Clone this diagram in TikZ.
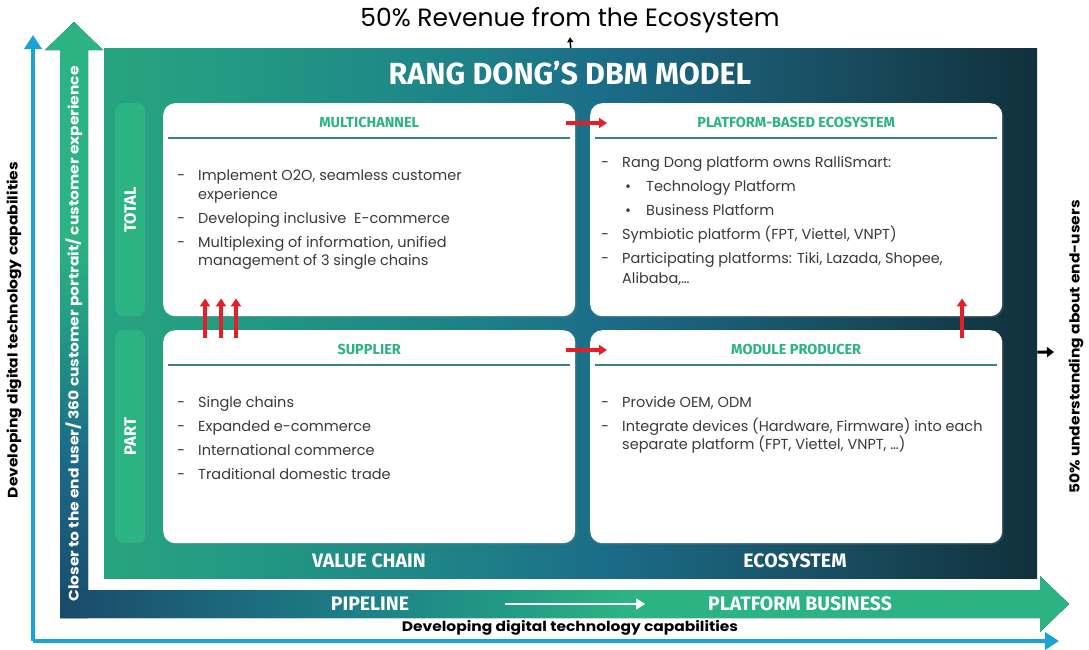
\documentclass[tikz,border=0pt]{standalone}
\usepackage{fontspec}
\setmainfont{Poppins}
\newfontfamily\headfont{Fira Sans}
\newfontfamily\widefont[FakeStretch=1.12]{Poppins}
\usetikzlibrary{arrows.meta,positioning,shadows}

\definecolor{dbmgreen}{HTML}{2BB383}
\definecolor{dbmleaf}{HTML}{27A47F}
\definecolor{dbmsea}{HTML}{229A84}
\definecolor{dbmturq}{HTML}{1D8088}
\definecolor{dbmteal}{HTML}{1B6C88}
\definecolor{dbmslate}{HTML}{184B5E}
\definecolor{dbmdark}{HTML}{10303B}
\definecolor{dbmnavy}{HTML}{1A4A6A}
\definecolor{dbmblue}{HTML}{1BA3D8}
\definecolor{dbmline}{HTML}{3D7F88}
\definecolor{dbmred}{HTML}{E3202A}
\definecolor{dbmtext}{HTML}{3A3A3A}

% colour runs of the model box and of the two bands
\pgfdeclarehorizontalshading{dbmbox}{100bp}{color(0bp)=(dbmleaf); color(25bp)=(dbmleaf);
  color(32bp)=(dbmsea); color(45bp)=(dbmturq); color(52bp)=(dbmteal);
  color(65bp)=(dbmslate); color(75bp)=(dbmdark); color(100bp)=(dbmdark)}
\pgfdeclarehorizontalshading{dbmband}{100bp}{color(0bp)=(dbmnavy); color(25bp)=(dbmnavy);
  color(40bp)=(dbmturq); color(47bp)=(dbmsea); color(53bp)=(dbmgreen); color(100bp)=(dbmgreen)}
\pgfdeclareverticalshading{dbmrise}{100bp}{color(0bp)=(dbmnavy); color(25bp)=(dbmnavy);
  color(39bp)=(dbmteal); color(49bp)=(dbmsea); color(57bp)=(dbmgreen); color(100bp)=(dbmgreen)}

\newcommand{\dashitem}{\makebox[21pt][l]{-}}
\newcommand{\contline}{\hspace*{21pt}}
\newcommand{\dotitem}{\hspace*{24pt}\makebox[21pt][l]{\textbullet}}

\begin{document}
\begin{tikzpicture}[x=1pt, y=-1pt,
    % boxes of the model
    panel/.style={fill=white, rounded corners=12pt, minimum width=412pt,
      minimum height=213pt, anchor=north west, inner sep=0pt,
      drop shadow={opacity=0.25, shadow xshift=1.5pt, shadow yshift=-1.5pt}},
    sidebox/.style={fill=dbmgreen, rounded corners=8pt, minimum width=30pt,
      minimum height=213pt, anchor=north west, inner sep=0pt,
      drop shadow={opacity=0.25, shadow xshift=1.5pt, shadow yshift=-1.5pt}},
    % texts
    paneltitle/.style={font=\headfont\bfseries\fontsize{14.5}{16}\selectfont, text=dbmgreen},
    itemtext/.style={font=\fontsize{14.5}{18.5}\selectfont, text=dbmtext,
      align=left, anchor=north west, inner sep=0pt},
    sidetext/.style={font=\headfont\bfseries\fontsize{16.5}{18}\selectfont, text=white, rotate=90},
    bandtext/.style={font=\headfont\bfseries\fontsize{19.5}{22}\selectfont, text=white},
    axistext/.style={font=\widefont\bfseries\fontsize{13.8}{16}\selectfont, text=black},
    % lines and arrows
    sepline/.style={dbmline, line width=1.5pt},
    redarrow/.style={dbmred, line width=3.5pt, -{Triangle[length=8pt,width=10pt]}},
    bluearrow/.style={dbmblue, line width=3.5pt, -{Triangle[length=14pt,width=17pt]}}
  ]
  \useasboundingbox (0,0) rectangle (1089,649);

  % outer blue axes
  \coordinate (bluecorner) at (33,641);
  \coordinate (bluetop) at (33,35);
  \coordinate (blueright) at (1059,641);
  \draw[bluearrow] (bluecorner) -- (bluetop);
  \draw[bluearrow] (bluecorner) -- (blueright);

  % green band arrows
  \fill[shading=dbmrise]
    (60,618) -- (60,50) -- (45,50) -- (74,22) -- (103,50) -- (88,50) -- (88,618) -- cycle;
  \fill[shading=dbmband]
    (60,590) -- (1040,590) -- (1040,576) -- (1069,604) -- (1040,632) -- (1040,618) -- (60,618) -- cycle;

  % main box
  \node[anchor=north west, minimum width=933pt, minimum height=530pt, inner sep=0pt,
    shading=dbmbox] (dbm) at (104,48) {};
  \node[font=\headfont\bfseries\fontsize{30.5}{34}\selectfont, text=white] (dbmtitle) at (570,73) {RANG DONG’S DBM MODEL};

  % side boxes
  \node[sidebox] (total) at (115,103) {};
  \node[sidetext] at (total.center) {TOTAL};
  \node[sidebox] (part) at (115,330) {};
  \node[sidetext] at (part.center) {PART};

  % four panels
  \node[panel] (multi) at (163,103) {};
  \node[panel] (platform) at (590,103) {};
  \node[panel] (supplier) at (163,330) {};
  \node[panel] (module) at (590,330) {};

  \foreach \p/\t in {multi/MULTICHANNEL, platform/PLATFORM-BASED ECOSYSTEM,
      supplier/SUPPLIER, module/MODULE PRODUCER} {
    \node[paneltitle] (\p title) at ([yshift=-19pt]\p.north) {\t};
    \draw[sepline] ([xshift=5pt,yshift=-35pt]\p.north west) -- ([xshift=-5pt,yshift=-35pt]\p.north east);
  }

  % panel texts
  \node[itemtext] (multitext) at ([xshift=14pt,yshift=-67pt]multi.north west)
    {\dashitem Implement O2O, seamless customer\\
     \contline experience\\[5.5pt]
     \dashitem Developing inclusive\ \ E-commerce\\[5.5pt]
     \dashitem Multiplexing of information, unified\\
     \contline management of 3 single chains};
  \node[itemtext] (platformtext) at ([xshift=11pt,yshift=-53pt]platform.north west)
    {\dashitem Rang Dong platform owns RalliSmart:\\[5.5pt]
     \dotitem Technology Platform\\[5.5pt]
     \dotitem Business Platform\\[5.5pt]
     \dashitem Symbiotic platform (FPT, Viettel, VNPT)\\[5.5pt]
     \dashitem Participating platforms: Tiki, Lazada, Shopee,\\[2pt]
     \contline Alibaba,…};
  \node[itemtext] (suppliertext) at ([xshift=14pt,yshift=-66pt]supplier.north west)
    {\dashitem Single chains\\[5.5pt]
     \dashitem Expanded e-commerce\\[5.5pt]
     \dashitem International commerce\\[5.5pt]
     \dashitem Traditional domestic trade};
  \node[itemtext] (moduletext) at ([xshift=11pt,yshift=-66pt]module.north west)
    {\dashitem Provide OEM, ODM\\[5.5pt]
     \dashitem Integrate devices (Hardware, Firmware) into each\\
     \contline separate platform (FPT, Viettel, VNPT, …)};

  % red arrows between panels
  \draw[redarrow] ([xshift=-9pt,yshift=-20pt]multi.north east) -- ([xshift=17pt,yshift=-20pt]platform.north west);
  \draw[redarrow] ([xshift=-9pt,yshift=-20pt]supplier.north east) -- ([xshift=17pt,yshift=-20pt]module.north west);
  \foreach \dx in {42,58,73}
    \draw[redarrow] ([xshift=\dx pt,yshift=-8pt]supplier.north west) -- ([xshift=\dx pt,yshift=18pt]multi.south west);
  \draw[redarrow] ([xshift=372pt,yshift=-8pt]module.north west) -- ([xshift=372pt,yshift=18pt]platform.south west);

  % bottom labels of the main box
  \node[bandtext] (valuechain) at (369,561) {VALUE CHAIN};
  \node[bandtext] (ecosystem) at (795,561) {ECOSYSTEM};

  % band texts
  \node[bandtext] (pipeline) at (370,604) {PIPELINE};
  \node[bandtext] (platformbiz) at (800,604) {PLATFORM BUSINESS};
  \draw[white, line width=2pt, -{Triangle[length=9pt,width=11pt]}] ([xshift=135pt]pipeline.center) -- ([xshift=-155pt]platformbiz.center);
  \node[font=\widefont\bfseries\fontsize{13.8}{16}\selectfont, text=white, rotate=90] (closer) at (74,334)
    {Closer to the end user/ 360 customer portrait/ customer experience};

  % axis texts
  \node[font=\fontsize{25}{29}\selectfont] (revenue) at (570,20) {50\% Revenue from the Ecosystem};
  \draw[line width=1.5pt, -{Triangle[length=5pt,width=6pt]}] (dbm.north) -- ([yshift=-1pt]revenue.south);
  \node[axistext, rotate=90] (understanding) at (1076,347) {50\% understanding about end-users};
  \coordinate (understandarrow) at (1054,352);
  \draw[line width=3pt, -{Triangle[length=7pt,width=10pt]}] ([yshift=-39pt]dbm.east) -- (understandarrow);
  \node[axistext, rotate=90] (leftaxis) at (14,330) {Developing digital technology capabilities};
  \node[axistext] (bottomaxis) at (570,628) {Developing digital technology capabilities};
\end{tikzpicture}
\end{document}
